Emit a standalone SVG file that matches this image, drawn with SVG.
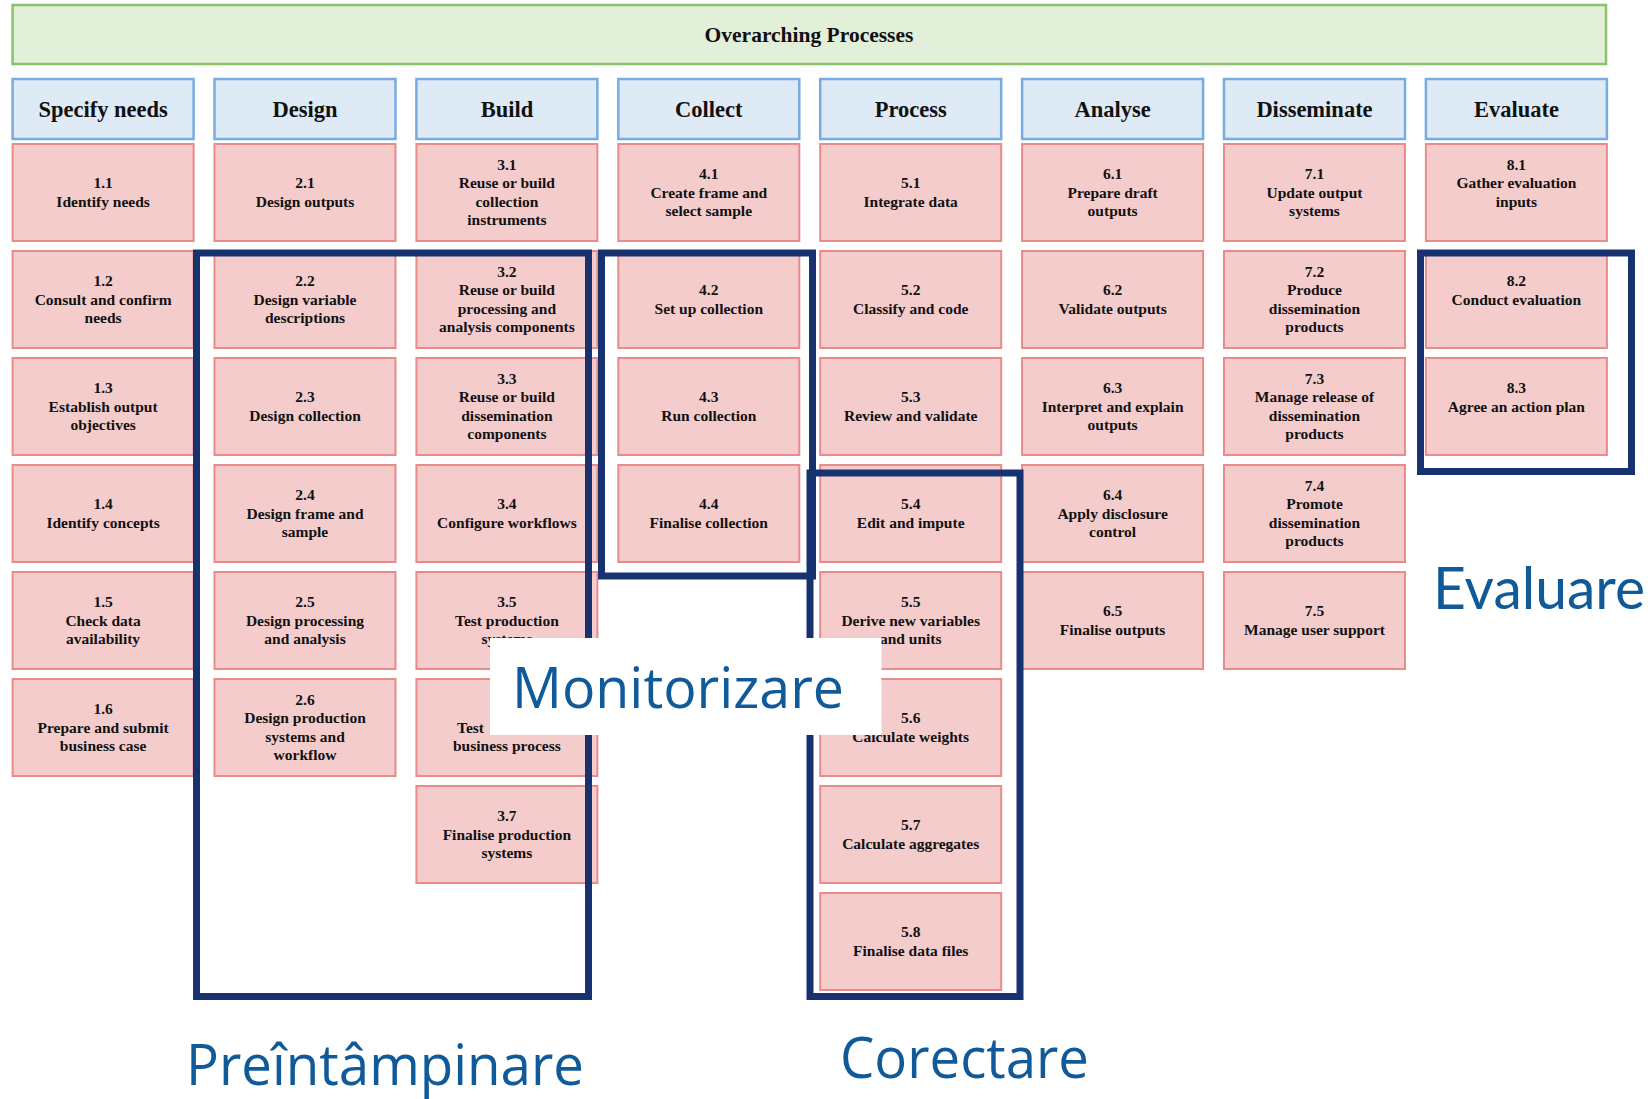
<svg xmlns="http://www.w3.org/2000/svg" width="1652" height="1099" viewBox="0 0 1652 1099">
<style>
.bg{fill:#ffffff}
.over{fill:#e2efd9;stroke:#8cc16b;stroke-width:2.5}
.hdr{fill:#deeaf6;stroke:#78ace0;stroke-width:2.5}
.box{fill:#f4cccc;stroke:#e88b8b;stroke-width:2}
.ht{font-family:"Liberation Serif","Times New Roman",serif;font-weight:bold;font-size:22.5px;fill:#111;text-anchor:middle}
.ot{font-family:"Liberation Serif","Times New Roman",serif;font-weight:bold;font-size:21.5px;fill:#111;text-anchor:middle}
.t{font-family:"Liberation Serif","Times New Roman",serif;font-weight:bold;font-size:15.5px;fill:#111;text-anchor:middle}
.reg{fill:none;stroke:#18326f;stroke-width:7}
.lbl{font-family:"Open Sans","Noto Sans",sans-serif;font-size:56px;fill:#115a99}
.lbl2{font-family:Lato,"Open Sans",sans-serif;font-size:58px;fill:#115a99}
</style>
<rect class="bg" x="0" y="0" width="1652" height="1099"/>

<g id="overarching">
<rect class="over" x="12.6" y="5" width="1593.4" height="59"/>
<text class="ot" x="809" y="42">Overarching Processes</text>
</g>

<g id="headers">
<g id="h1"><rect class="hdr" x="12.6" y="79" width="181" height="60"/><text class="ht" x="103.1" y="117">Specify needs</text></g>
<g id="h2"><rect class="hdr" x="214.5" y="79" width="181" height="60"/><text class="ht" x="305" y="117">Design</text></g>
<g id="h3"><rect class="hdr" x="416.4" y="79" width="181" height="60"/><text class="ht" x="506.9" y="117">Build</text></g>
<g id="h4"><rect class="hdr" x="618.3" y="79" width="181" height="60"/><text class="ht" x="708.8" y="117">Collect</text></g>
<g id="h5"><rect class="hdr" x="820.2" y="79" width="181" height="60"/><text class="ht" x="910.7" y="117">Process</text></g>
<g id="h6"><rect class="hdr" x="1022.1" y="79" width="181" height="60"/><text class="ht" x="1112.6" y="117">Analyse</text></g>
<g id="h7"><rect class="hdr" x="1224" y="79" width="181" height="60"/><text class="ht" x="1314.5" y="117">Disseminate</text></g>
<g id="h8"><rect class="hdr" x="1425.9" y="79" width="181" height="60"/><text class="ht" x="1516.4" y="117">Evaluate</text></g>
</g>

<g id="col1">
<g id="n1-1"><rect class="box" x="12.6" y="144" width="181" height="97"/><text class="t"><tspan x="103.1" y="188.2">1.1</tspan><tspan x="103.1" y="206.8">Identify needs</tspan></text></g>
<g id="n1-2"><rect class="box" x="12.6" y="251" width="181" height="97"/><text class="t"><tspan x="103.1" y="285.9">1.2</tspan><tspan x="103.1" y="304.5">Consult and confirm</tspan><tspan x="103.1" y="323.1">needs</tspan></text></g>
<g id="n1-3"><rect class="box" x="12.6" y="358" width="181" height="97"/><text class="t"><tspan x="103.1" y="392.9">1.3</tspan><tspan x="103.1" y="411.5">Establish output</tspan><tspan x="103.1" y="430.1">objectives</tspan></text></g>
<g id="n1-4"><rect class="box" x="12.6" y="465" width="181" height="97"/><text class="t"><tspan x="103.1" y="509.2">1.4</tspan><tspan x="103.1" y="527.8">Identify concepts</tspan></text></g>
<g id="n1-5"><rect class="box" x="12.6" y="572" width="181" height="97"/><text class="t"><tspan x="103.1" y="606.9">1.5</tspan><tspan x="103.1" y="625.5">Check data</tspan><tspan x="103.1" y="644.1">availability</tspan></text></g>
<g id="n1-6"><rect class="box" x="12.6" y="679" width="181" height="97"/><text class="t"><tspan x="103.1" y="713.9">1.6</tspan><tspan x="103.1" y="732.5">Prepare and submit</tspan><tspan x="103.1" y="751.1">business case</tspan></text></g>
</g>

<g id="col2">
<g id="n2-1"><rect class="box" x="214.5" y="144" width="181" height="97"/><text class="t"><tspan x="305" y="188.2">2.1</tspan><tspan x="305" y="206.8">Design outputs</tspan></text></g>
<g id="n2-2"><rect class="box" x="214.5" y="251" width="181" height="97"/><text class="t"><tspan x="305" y="285.9">2.2</tspan><tspan x="305" y="304.5">Design variable</tspan><tspan x="305" y="323.1">descriptions</tspan></text></g>
<g id="n2-3"><rect class="box" x="214.5" y="358" width="181" height="97"/><text class="t"><tspan x="305" y="402.2">2.3</tspan><tspan x="305" y="420.8">Design collection</tspan></text></g>
<g id="n2-4"><rect class="box" x="214.5" y="465" width="181" height="97"/><text class="t"><tspan x="305" y="499.9">2.4</tspan><tspan x="305" y="518.5">Design frame and</tspan><tspan x="305" y="537.1">sample</tspan></text></g>
<g id="n2-5"><rect class="box" x="214.5" y="572" width="181" height="97"/><text class="t"><tspan x="305" y="606.9">2.5</tspan><tspan x="305" y="625.5">Design processing</tspan><tspan x="305" y="644.1">and analysis</tspan></text></g>
<g id="n2-6"><rect class="box" x="214.5" y="679" width="181" height="97"/><text class="t"><tspan x="305" y="704.6">2.6</tspan><tspan x="305" y="723.2">Design production</tspan><tspan x="305" y="741.8">systems and</tspan><tspan x="305" y="760.4">workflow</tspan></text></g>
</g>

<g id="col3">
<g id="n3-1"><rect class="box" x="416.4" y="144" width="181" height="97"/><text class="t"><tspan x="506.9" y="169.6">3.1</tspan><tspan x="506.9" y="188.2">Reuse or build</tspan><tspan x="506.9" y="206.8">collection</tspan><tspan x="506.9" y="225.4">instruments</tspan></text></g>
<g id="n3-2"><rect class="box" x="416.4" y="251" width="181" height="97"/><text class="t"><tspan x="506.9" y="276.6">3.2</tspan><tspan x="506.9" y="295.2">Reuse or build</tspan><tspan x="506.9" y="313.8">processing and</tspan><tspan x="506.9" y="332.4">analysis components</tspan></text></g>
<g id="n3-3"><rect class="box" x="416.4" y="358" width="181" height="97"/><text class="t"><tspan x="506.9" y="383.6">3.3</tspan><tspan x="506.9" y="402.2">Reuse or build</tspan><tspan x="506.9" y="420.8">dissemination</tspan><tspan x="506.9" y="439.4">components</tspan></text></g>
<g id="n3-4"><rect class="box" x="416.4" y="465" width="181" height="97"/><text class="t"><tspan x="506.9" y="509.2">3.4</tspan><tspan x="506.9" y="527.8">Configure workflows</tspan></text></g>
<g id="n3-5"><rect class="box" x="416.4" y="572" width="181" height="97"/><text class="t"><tspan x="506.9" y="606.9">3.5</tspan><tspan x="506.9" y="625.5">Test production</tspan><tspan x="506.9" y="644.1">systems</tspan></text></g>
<g id="n3-6"><rect class="box" x="416.4" y="679" width="181" height="97"/><text class="t"><tspan x="457" y="732.5" text-anchor="start">Test</tspan><tspan x="506.9" y="751.1">business process</tspan></text></g>
<g id="n3-7"><rect class="box" x="416.4" y="786" width="181" height="97"/><text class="t"><tspan x="506.9" y="820.9">3.7</tspan><tspan x="506.9" y="839.5">Finalise production</tspan><tspan x="506.9" y="858.1">systems</tspan></text></g>
</g>

<g id="col4">
<g id="n4-1"><rect class="box" x="618.3" y="144" width="181" height="97"/><text class="t"><tspan x="708.8" y="178.9">4.1</tspan><tspan x="708.8" y="197.5">Create frame and</tspan><tspan x="708.8" y="216.1">select sample</tspan></text></g>
<g id="n4-2"><rect class="box" x="618.3" y="251" width="181" height="97"/><text class="t"><tspan x="708.8" y="295.2">4.2</tspan><tspan x="708.8" y="313.8">Set up collection</tspan></text></g>
<g id="n4-3"><rect class="box" x="618.3" y="358" width="181" height="97"/><text class="t"><tspan x="708.8" y="402.2">4.3</tspan><tspan x="708.8" y="420.8">Run collection</tspan></text></g>
<g id="n4-4"><rect class="box" x="618.3" y="465" width="181" height="97"/><text class="t"><tspan x="708.8" y="509.2">4.4</tspan><tspan x="708.8" y="527.8">Finalise collection</tspan></text></g>
</g>

<g id="col5">
<g id="n5-1"><rect class="box" x="820.2" y="144" width="181" height="97"/><text class="t"><tspan x="910.7" y="188.2">5.1</tspan><tspan x="910.7" y="206.8">Integrate data</tspan></text></g>
<g id="n5-2"><rect class="box" x="820.2" y="251" width="181" height="97"/><text class="t"><tspan x="910.7" y="295.2">5.2</tspan><tspan x="910.7" y="313.8">Classify and code</tspan></text></g>
<g id="n5-3"><rect class="box" x="820.2" y="358" width="181" height="97"/><text class="t"><tspan x="910.7" y="402.2">5.3</tspan><tspan x="910.7" y="420.8">Review and validate</tspan></text></g>
<g id="n5-4"><rect class="box" x="820.2" y="465" width="181" height="97"/><text class="t"><tspan x="910.7" y="509.2">5.4</tspan><tspan x="910.7" y="527.8">Edit and impute</tspan></text></g>
<g id="n5-5"><rect class="box" x="820.2" y="572" width="181" height="97"/><text class="t"><tspan x="910.7" y="606.9">5.5</tspan><tspan x="910.7" y="625.5">Derive new variables</tspan><tspan x="910.7" y="644.1">and units</tspan></text></g>
<g id="n5-6"><rect class="box" x="820.2" y="679" width="181" height="97"/><text class="t"><tspan x="910.7" y="723.2">5.6</tspan><tspan x="910.7" y="741.8">Calculate weights</tspan></text></g>
<g id="n5-7"><rect class="box" x="820.2" y="786" width="181" height="97"/><text class="t"><tspan x="910.7" y="830.2">5.7</tspan><tspan x="910.7" y="848.8">Calculate aggregates</tspan></text></g>
<g id="n5-8"><rect class="box" x="820.2" y="893" width="181" height="97"/><text class="t"><tspan x="910.7" y="937.2">5.8</tspan><tspan x="910.7" y="955.8">Finalise data files</tspan></text></g>
</g>

<g id="col6">
<g id="n6-1"><rect class="box" x="1022.1" y="144" width="181" height="97"/><text class="t"><tspan x="1112.6" y="178.9">6.1</tspan><tspan x="1112.6" y="197.5">Prepare draft</tspan><tspan x="1112.6" y="216.1">outputs</tspan></text></g>
<g id="n6-2"><rect class="box" x="1022.1" y="251" width="181" height="97"/><text class="t"><tspan x="1112.6" y="295.2">6.2</tspan><tspan x="1112.6" y="313.8">Validate outputs</tspan></text></g>
<g id="n6-3"><rect class="box" x="1022.1" y="358" width="181" height="97"/><text class="t"><tspan x="1112.6" y="392.9">6.3</tspan><tspan x="1112.6" y="411.5">Interpret and explain</tspan><tspan x="1112.6" y="430.1">outputs</tspan></text></g>
<g id="n6-4"><rect class="box" x="1022.1" y="465" width="181" height="97"/><text class="t"><tspan x="1112.6" y="499.9">6.4</tspan><tspan x="1112.6" y="518.5">Apply disclosure</tspan><tspan x="1112.6" y="537.1">control</tspan></text></g>
<g id="n6-5"><rect class="box" x="1022.1" y="572" width="181" height="97"/><text class="t"><tspan x="1112.6" y="616.2">6.5</tspan><tspan x="1112.6" y="634.8">Finalise outputs</tspan></text></g>
</g>

<g id="col7">
<g id="n7-1"><rect class="box" x="1224" y="144" width="181" height="97"/><text class="t"><tspan x="1314.5" y="178.9">7.1</tspan><tspan x="1314.5" y="197.5">Update output</tspan><tspan x="1314.5" y="216.1">systems</tspan></text></g>
<g id="n7-2"><rect class="box" x="1224" y="251" width="181" height="97"/><text class="t"><tspan x="1314.5" y="276.6">7.2</tspan><tspan x="1314.5" y="295.2">Produce</tspan><tspan x="1314.5" y="313.8">dissemination</tspan><tspan x="1314.5" y="332.4">products</tspan></text></g>
<g id="n7-3"><rect class="box" x="1224" y="358" width="181" height="97"/><text class="t"><tspan x="1314.5" y="383.6">7.3</tspan><tspan x="1314.5" y="402.2">Manage release of</tspan><tspan x="1314.5" y="420.8">dissemination</tspan><tspan x="1314.5" y="439.4">products</tspan></text></g>
<g id="n7-4"><rect class="box" x="1224" y="465" width="181" height="97"/><text class="t"><tspan x="1314.5" y="490.6">7.4</tspan><tspan x="1314.5" y="509.2">Promote</tspan><tspan x="1314.5" y="527.8">dissemination</tspan><tspan x="1314.5" y="546.4">products</tspan></text></g>
<g id="n7-5"><rect class="box" x="1224" y="572" width="181" height="97"/><text class="t"><tspan x="1314.5" y="616.2">7.5</tspan><tspan x="1314.5" y="634.8">Manage user support</tspan></text></g>
</g>

<g id="col8">
<g id="n8-1"><rect class="box" x="1425.9" y="144" width="181" height="97"/><text class="t"><tspan x="1516.4" y="169.6">8.1</tspan><tspan x="1516.4" y="188.2">Gather evaluation</tspan><tspan x="1516.4" y="206.8">inputs</tspan></text></g>
<g id="n8-2"><rect class="box" x="1425.9" y="251" width="181" height="97"/><text class="t"><tspan x="1516.4" y="285.9">8.2</tspan><tspan x="1516.4" y="304.5">Conduct evaluation</tspan></text></g>
<g id="n8-3"><rect class="box" x="1425.9" y="358" width="181" height="97"/><text class="t"><tspan x="1516.4" y="392.9">8.3</tspan><tspan x="1516.4" y="411.5">Agree an action plan</tspan></text></g>
</g>

<g id="regions">
<rect id="r-prevent" class="reg" x="196.5" y="253" width="392" height="743.5"/>
<rect id="r-monitor" class="reg" x="601.5" y="253" width="211" height="323"/>
<rect id="r-correct" class="reg" x="810" y="473" width="210" height="523.5"/>
<rect id="r-evaluate" class="reg" x="1420.5" y="253" width="211" height="218.5"/>
</g>

<g id="label-monitor">
<rect x="490" y="638" width="391.5" height="97" fill="#ffffff"/>
<text class="lbl" x="512" y="708" textLength="332" lengthAdjust="spacingAndGlyphs">Monitorizare</text>
</g>
<g id="label-evaluate"><text class="lbl2" x="1433" y="609" textLength="212" lengthAdjust="spacingAndGlyphs">Evaluare</text></g>
<g id="label-prevent"><text class="lbl" x="186" y="1085" textLength="398" lengthAdjust="spacingAndGlyphs">Preîntâmpinare</text></g>
<g id="label-correct"><text class="lbl" x="840" y="1078" textLength="249" lengthAdjust="spacingAndGlyphs">Corectare</text></g>
</svg>
